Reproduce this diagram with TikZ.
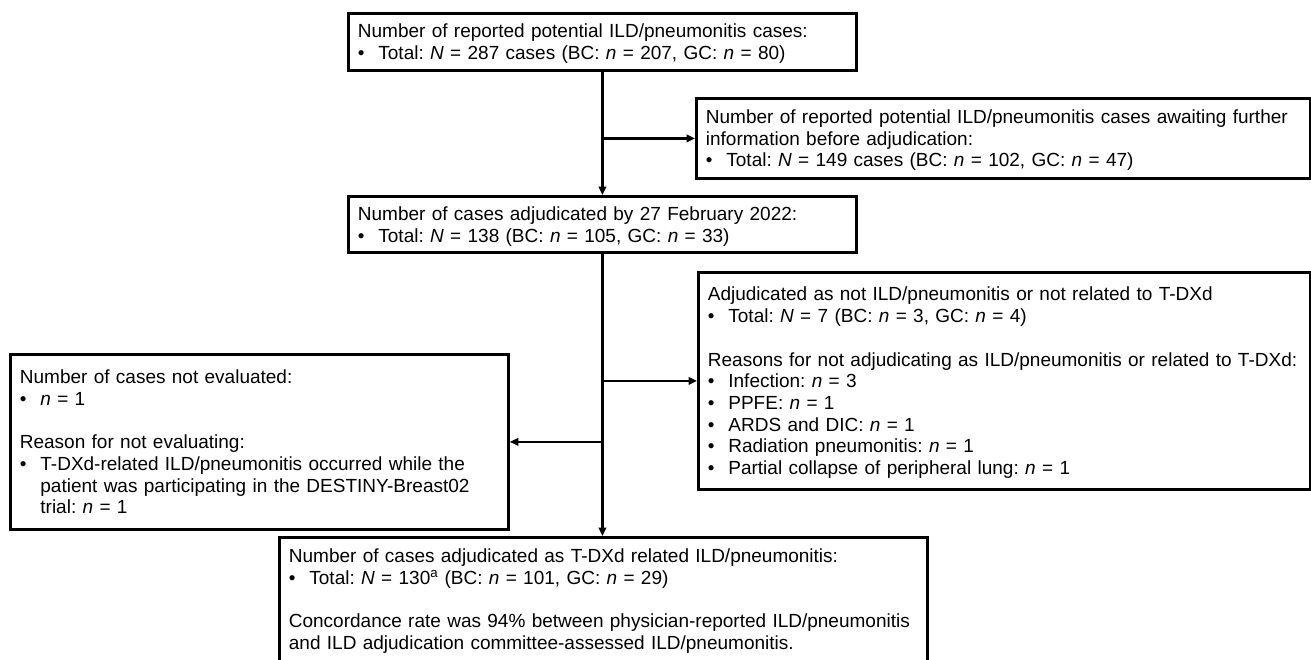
\documentclass[tikz,border=0pt]{standalone}
\usepackage{fontspec}
\setmainfont{Liberation Sans}
\usetikzlibrary{arrows.meta}
\frenchspacing
\newcommand\fs{\fontsize{19pt}{21.7pt}\selectfont\frenchspacing}
\newcommand\bul{\makebox[20.5pt][l]{\textbullet}}
\newcommand\ind{\makebox[20.5pt][l]{}}
\tikzset{
  box/.style={draw=black, line width=2.8pt, anchor=north west, inner xsep=9.5pt,
    inner ysep=0pt, align=left, font=\fs, minimum width=0pt, minimum height=0pt},
  arr/.style={line width=2.3pt, -{Triangle[length=8.5pt,width=7.5pt]}},
}
\begin{document}
\begin{tikzpicture}[x=1pt,y=-1pt]
\useasboundingbox (0,0) rectangle (1311,659);

\node[box, text width=489pt, text height=24.45pt, text depth=32.55pt] (top) at (347,12)
  {Number of reported potential ILD/pneumonitis cases:\\
   \bul Total: \textit{N} = 287 cases (BC: \textit{n} = 207, GC: \textit{n} = 80)};

\node[box, text width=595pt, text height=25.1pt, text depth=54.9pt] (r1) at (695,97)
  {Number of reported potential ILD/pneumonitis cases awaiting further\\
   information before adjudication:\\
   \bul Total: \textit{N} = 149 cases (BC: \textit{n} = 102, GC: \textit{n} = 47)};

\node[box, text width=489pt, text height=23.95pt, text depth=32.05pt] (mid) at (347,195)
  {Number of cases adjudicated by 27 February 2022:\\
   \bul Total: \textit{N} = 138 (BC: \textit{n} = 105, GC: \textit{n} = 33)};

\node[box, text width=593pt, text height=28.5pt, text depth=188.5pt] (r2) at (697,271)
  {Adjudicated as not ILD/pneumonitis or not related to T-DXd\\
   \bul Total: \textit{N} = 7 (BC: \textit{n} = 3, GC: \textit{n} = 4)\\[21.7pt]
   \mbox{Reasons for not adjudicating as ILD/pneumonitis or related to T-DXd:}\\
   \bul Infection: \textit{n} = 3\\
   \bul PPFE: \textit{n} = 1\\
   \bul ARDS and DIC: \textit{n} = 1\\
   \bul Radiation pneumonitis: \textit{n} = 1\\
   \bul Partial collapse of peripheral lung: \textit{n} = 1};

\node[box, text width=479pt, text height=29.2pt, text depth=145.8pt] (left) at (9,353)
  {Number of cases not evaluated:\\
   \bul \textit{n} = 1\\[21.7pt]
   Reason for not evaluating:\\
   \bul T-DXd-related ILD/pneumonitis occurred while the\\
   \ind patient was participating in the DESTINY-Breast02\\
   \ind trial: \textit{n} = 1};

\node[box, text width=629pt, text height=25pt, text depth=150pt] (bottom) at (278,536)
  {Number of cases adjudicated as T-DXd related ILD/pneumonitis:\\
   \bul Total: \textit{N} = 130\textsuperscript{a} (BC: \textit{n} = 101, GC: \textit{n} = 29)\\[21.7pt]
   \mbox{Concordance rate was 94\% between physician-reported ILD/pneumonitis}\\
   and ILD adjudication committee-assessed ILD/pneumonitis.};

\draw[arr] (top.south) -- (mid.north);
\draw[arr] (top.south |- r1.west) -- (r1.west);
\draw[arr] (mid.south) -- (mid.south |- bottom.north);
\draw[arr] (mid.south |- r2.west) -- (r2.west);
\draw[arr] (mid.south |- left.east) -- (left.east);
\end{tikzpicture}
\end{document}
